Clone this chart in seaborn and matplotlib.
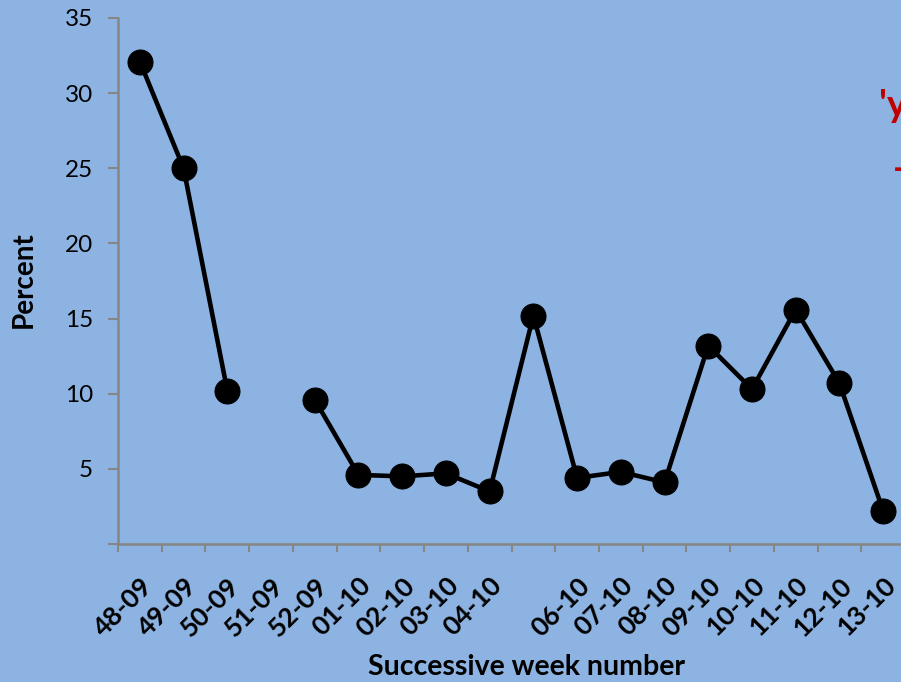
import numpy as np
import pandas as pd
import matplotlib
matplotlib.use("Agg")
import matplotlib.pyplot as plt
import seaborn as sns
from matplotlib.ticker import FixedLocator

# Weekly percentage, weeks 48-09 to 13-10 (no value for 51-09)
weeks = ["48-09", "49-09", "50-09", "51-09", "52-09", "01-10", "02-10", "03-10",
         "04-10", "", "06-10", "07-10", "08-10", "09-10", "10-10", "11-10",
         "12-10", "13-10"]
percent = [32.1, 25.0, 10.2, np.nan, 9.6, 4.6, 4.5, 4.7, 3.5, 15.2, 4.4, 4.8,
           4.1, 13.2, 10.3, 15.6, 10.7, 2.2]
y_ticks = [0, 5, 10, 15, 20, 25, 30, 35]
y_labels = ["", "5", "10", "15", "20", "25", "30", "35"]

bg = "#8DB3E2"
spine_col = "#868686"

sns.set_theme(style="white")
plt.rcParams["font.family"] = ["Lato", "DejaVu Sans"]
plt.rcParams["text.color"] = "black"
plt.rcParams["xtick.color"] = "black"
plt.rcParams["ytick.color"] = "black"

df = pd.DataFrame({"pos": np.arange(len(weeks)), "percent": percent})
# split into separate runs wherever a week is missing, so the line breaks there
df["run"] = df["percent"].isna().cumsum()
df = df.dropna()

fig = plt.figure(figsize=(9.01, 6.82), dpi=100, facecolor=bg)
ax = fig.add_axes([118 / 901, 138 / 682, 787 / 901, 526 / 682])
ax.set_facecolor(bg)

sns.lineplot(data=df, x="pos", y="percent", units="run", estimator=None,
             color="black", linewidth=3.3, marker="o", markersize=18,
             markeredgecolor="black", ax=ax, legend=False)

ax.set_xlim(-0.5, len(weeks) - 0.5)
ax.set_ylim(0, 35)
ax.set_yticks(y_ticks)
ax.set_yticklabels(y_labels)

ax.set_xticks(np.arange(len(weeks)))
ax.set_xticklabels(weeks, rotation=45, ha="right", rotation_mode="anchor",
                   fontsize=19, fontweight="bold")
ax.xaxis.set_minor_locator(FixedLocator(np.arange(len(weeks) + 1) - 0.5))
ax.tick_params(axis="x", which="major", length=0, pad=21)
ax.tick_params(axis="x", which="minor", length=6, width=1.5, color=spine_col,
               direction="out", bottom=True)
ax.tick_params(axis="y", which="major", length=7, width=1.5, color=spine_col,
               direction="out", left=True, labelsize=17.5, pad=11,
               labelcolor="black")

for side in ["top", "right"]:
    ax.spines[side].set_visible(False)
for side in ["left", "bottom"]:
    ax.spines[side].set_color(spine_col)
    ax.spines[side].set_linewidth(1.8)

ax.set_xlabel("")
ax.set_ylabel("")
fig.text(526 / 901, 1 - 667 / 682, "Successive week number", ha="center",
         va="center", fontsize=20.5, fontweight="bold", color="black")
fig.text(24 / 901, 1 - 280 / 682, "Percent", ha="center", va="center",
         rotation=90, fontsize=20, fontweight="bold", color="black")

fig.text(879 / 901, 1 - 106 / 682, "'y", ha="left", va="center",
         fontsize=27, fontweight="bold", color="#C00000")
fig.text(893 / 901, 1 - 170 / 682, "-", ha="left", va="center",
         fontsize=27, fontweight="bold", color="#C00000")

fig.savefig("out.png", dpi=100, facecolor=bg)
